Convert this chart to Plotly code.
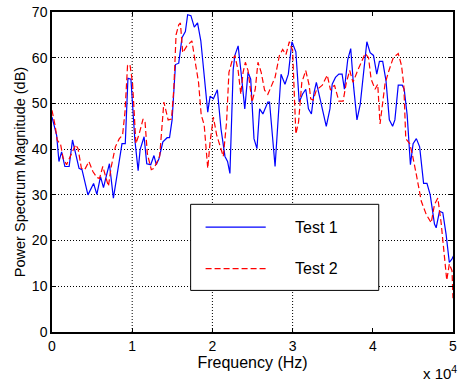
import plotly.graph_objects as go

# Test 1 (blue solid)
freq1 = [0, 580, 864, 1198, 1605, 2136, 2556, 2840, 3370, 3741, 4481, 5185, 5593, 6049, 6420, 6753,
         7160, 7654, 8148, 8728, 9136, 9469, 9840, 10037, 10333, 10741, 10988, 11482, 11815, 12309,
         12716, 13000, 13333, 13827, 14358, 14654, 14975, 15395, 15802, 16210, 16630, 16914, 17321,
         17741, 18148, 18556, 18975, 19420, 19716, 20123, 20617, 21074, 21568, 21889, 22185, 22593,
         22802, 23210, 23617, 24037, 24444, 24778, 25185, 25556, 25889, 26296, 26914, 27123, 27815,
         28148, 28556, 29049, 29469, 29914, 30407, 30827, 31235, 31642, 31975, 32346, 32679, 32963,
         33494, 34198, 34654, 34938, 35346, 35765, 36173, 36457, 36877, 37247, 37617, 38025, 38432,
         38852, 39259, 39667, 40086, 40494, 40827, 41235, 41642, 42062, 42469, 42753, 43173, 43667,
         43914, 44284, 44691, 45025, 45432, 45840, 46333, 46753, 47160, 47691, 47901, 48309, 48728,
         49136, 49543, 49877, 50100]
mag1 = [47.0, 43.0, 37.3, 39.4, 36.2, 36.2, 42.0, 40.0, 35.8, 35.5, 30.0, 32.5, 30.1, 34.0, 31.6, 34.0,
        36.8, 29.3, 35.0, 41.2, 41.2, 55.5, 55.3, 50.3, 42.0, 35.3, 39.9, 42.7, 36.8, 36.6,
        38.6, 36.6, 37.9, 41.6, 42.5, 42.5, 46.4, 58.5, 58.8, 64.4, 65.7, 69.4, 69.2,
        66.7, 67.6, 63.7, 55.3, 48.1, 51.6, 51.0, 53.0, 44.4, 38.4, 37.3, 34.7, 57.4,
        60.5, 62.6, 56.1, 48.8, 56.8, 55.3, 42.3, 40.1, 48.8, 47.7, 50.3, 50.3, 36.2,
        44.4, 56.4, 54.2, 56.4, 63.5, 61.3, 50.3, 52.0, 53.1, 48.8, 47.7, 52.4, 54.6,
        50.3, 45.0, 48.8, 54.2, 55.7, 56.4, 56.4, 53.1, 59.6, 62.0, 53.5, 46.4, 49.8,
        57.2, 63.5, 61.1, 60.5, 56.4, 59.2, 59.2, 55.0, 46.4, 45.0, 46.4, 54.0, 54.0,
        53.1, 47.5, 36.6, 41.2, 42.3, 40.5, 32.5, 32.5, 30.0, 23.6, 22.8, 26.4, 26.1,
        21.4, 15.2, 16.0, 16.8]

# Test 2 (red dashed)
freq2 = [0, 370, 654, 1074, 1395, 1815, 2432, 2963, 3247, 3667, 4074, 4605, 5099, 5593, 5926, 6333,
         6753, 7037, 7370, 7901, 8395, 8802, 9099, 9420, 9716, 10037, 10247, 10457, 10864, 11358,
         11605, 11889, 12383, 12716, 13123, 13420, 13951, 14481, 14901, 15185, 15469, 15802, 16012,
         16296, 16827, 17444, 17864, 18272, 18605, 18975, 19173, 19420, 19716, 20123, 20531, 20951,
         21358, 21765, 22062, 22469, 22802, 23210, 23543, 23827, 24111, 24444, 24938, 25346, 25679,
         26086, 26506, 26914, 27407, 27815, 28358, 28765, 29173, 29593, 30000, 30210, 30407, 30741,
         31148, 31642, 32062, 32259, 32556, 32963, 33704, 34321, 34728, 35222, 35765, 36296,
         36704, 37123, 37531, 38111, 38642, 39049, 39469, 39790, 40284, 40617, 40901, 41235, 41519,
         41938, 42556, 43173, 43580, 43864, 44111, 44605, 44938, 45432, 46049, 46667, 47284, 47691,
         48111, 48519, 48926, 49222, 49543, 49877, 50000]
mag2 = [48.5, 45.3, 42.0, 41.0, 38.0, 36.6, 39.0, 41.0, 40.1, 35.8, 35.5, 37.3, 35.1, 33.8, 33.6, 36.2,
        33.6, 31.9, 36.0, 40.5, 42.3, 43.1, 48.1, 58.3, 58.5, 54.6, 48.1, 41.2, 43.3, 46.6,
        45.9, 39.0, 35.5, 35.8, 37.3, 38.4, 50.3, 46.4, 46.6, 53.1, 65.0, 67.2, 67.6,
        61.1, 62.6, 63.7, 59.0, 54.6, 47.5, 45.3, 41.0, 35.8, 41.6, 47.0, 43.1, 40.5,
        38.4, 45.9, 56.8, 59.4, 60.5, 57.2, 52.0, 56.8, 59.0, 57.2, 50.3, 53.1, 59.0,
        56.8, 52.9, 52.0, 54.2, 55.7, 60.5, 61.8, 60.7, 63.5, 61.6, 52.4, 43.3, 45.9,
        54.6, 57.2, 54.0, 51.0, 50.7, 52.9, 54.0, 56.2, 52.9, 54.0, 50.5, 50.5,
        54.6, 57.2, 54.6, 57.2, 59.4, 60.9, 60.0, 55.3, 53.1, 54.2, 45.5, 51.0, 54.2,
        56.8, 60.0, 60.9, 58.3, 54.0, 42.3, 41.2, 38.8, 34.4, 28.6, 25.7, 23.9, 27.9,
        29.3, 23.9, 15.6, 11.3, 14.9, 13.4, 7.4]

series_names = ["Test 1", "Test 2"]
x_ticks = [0, 10000, 20000, 30000, 40000, 50000]
x_ticktext = ["0", "1", "2", "3", "4", "5"]
y_ticks = [0, 10, 20, 30, 40, 50, 60, 70]
x_grid = [10000, 20000, 30000]

FONT = "Liberation Sans, Arial, sans-serif"
BLUE = "rgb(0,0,255)"
RED = "rgb(255,0,0)"
RED_DASH = "6px,3px"

fig = go.Figure()
fig.add_trace(go.Scatter(x=freq1, y=mag1, mode="lines", name=series_names[0],
                         line=dict(color=BLUE, width=1.2), showlegend=False))
fig.add_trace(go.Scatter(x=freq2, y=mag2, mode="lines", name=series_names[1],
                         line=dict(color=RED, width=1.2, dash=RED_DASH), showlegend=False))

for gx in x_grid:
    fig.add_vline(x=gx, line=dict(color="black", width=1, dash="1px,2px"), layer="below")

# legend box (paper coordinates)
lg_x0, lg_x1, lg_y0, lg_y1 = 0.3457, 0.8148, 0.130, 0.399
fig.add_shape(type="rect", xref="paper", yref="paper", x0=lg_x0, x1=lg_x1, y0=lg_y0, y1=lg_y1,
              line=dict(color="black", width=1), fillcolor="white", layer="above")
legend_rows = [(0.328, BLUE, "solid"), (0.198, RED, RED_DASH)]
annotations = []
for name, (ly, col, dsh) in zip(series_names, legend_rows):
    fig.add_shape(type="line", xref="paper", yref="paper", x0=0.383, x1=0.533, y0=ly, y1=ly,
                  line=dict(color=col, width=1.2, dash=dsh), layer="above")
    annotations.append(dict(text=name, xref="paper", yref="paper", x=0.600, y=ly,
                            xanchor="left", yanchor="middle", showarrow=False,
                            font=dict(size=16, family=FONT)))

annotations.append(dict(text="x 10<sup>4</sup>", xref="paper", yref="paper", x=1, y=0,
                        xanchor="right", yanchor="top", yshift=-29, xshift=6, showarrow=False,
                        font=dict(size=15, family=FONT)))

fig.update_layout(
    width=461, height=381,
    margin=dict(l=52, r=4, t=9, b=49),
    paper_bgcolor="white", plot_bgcolor="white",
    font=dict(family=FONT, size=13, color="black"),
    showlegend=False,
    xaxis=dict(range=[0, 50000], tickvals=x_ticks, ticktext=x_ticktext,
               showgrid=False, zeroline=False, showline=True, linecolor="black",
               linewidth=1.5, mirror="allticks", ticks="inside", ticklen=4,
               tickcolor="black", tickfont=dict(size=14),
               title=dict(text="Frequency (Hz)", font=dict(size=16), standoff=4)),
    yaxis=dict(range=[0, 70], tickvals=y_ticks, showgrid=True, gridcolor="black",
               griddash="1px,2px", gridwidth=1, zeroline=False, showline=True,
               linecolor="black", linewidth=1.5, mirror="allticks", ticks="inside",
               ticklen=4, tickcolor="black", tickfont=dict(size=14),
               title=dict(text="Power Spectrum Magnitude (dB)", font=dict(size=14.5), standoff=3)),
    annotations=annotations,
)

fig.write_html("out.html")
